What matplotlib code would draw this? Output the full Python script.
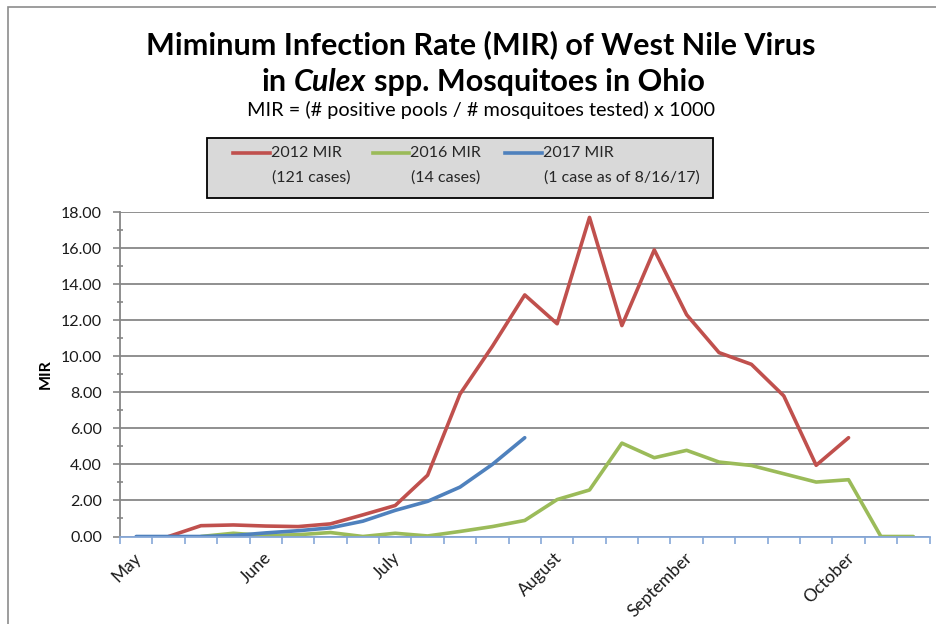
import matplotlib
matplotlib.use("Agg")
import matplotlib.pyplot as plt
import matplotlib.transforms as mtransforms
from matplotlib.lines import Line2D
from matplotlib.patches import Rectangle
from matplotlib.ticker import MultipleLocator, FormatStrFormatter, FixedLocator
import numpy as np

plt.rcParams['font.family'] = ['Lato', 'DejaVu Sans']

# weekly categories, May .. October
weeks = np.arange(25)
month_labels = ["May", "June", "July", "August", "September", "October"]
month_weeks = [0, 4, 8, 13, 17, 22]

nan = np.nan
mir_2012 = [nan, 0.0, 0.60, 0.64, 0.58, 0.55, 0.70, 1.20, 1.72, 3.40, 7.90, 10.55,
            13.40, 11.80, 17.70, 11.70, 15.90, 12.30, 10.20, 9.55, 7.80, 3.95, 5.48,
            nan, nan]
mir_2016 = [nan, nan, 0.0, 0.18, 0.05, 0.10, 0.22, 0.0, 0.18, 0.03, 0.28, 0.55,
            0.89, 2.05, 2.58, 5.18, 4.37, 4.78, 4.13, 3.94, 3.48, 3.02, 3.15,
            0.0, 0.0]
mir_2017 = [0.0, 0.0, 0.0, 0.05, 0.20, 0.32, 0.48, 0.85, 1.45, 1.95, 2.74, 4.00,
            5.48] + [nan] * 12

series = [
    ("2012 MIR", "(121 cases)", mir_2012, "#C0504D"),
    ("2016 MIR", "(14 cases)", mir_2016, "#9BBB59"),
    ("2017 MIR", "(1 case as of 8/16/17)", mir_2017, "#4F81BD"),
]

W, H = 937, 624
fig = plt.figure(figsize=(W / 100, H / 100), dpi=100)

def fx(px):
    return px / W

def fy(py):
    return 1 - py / H

ax = fig.add_axes([fx(120), fy(536.5), fx(929.5) - fx(120), fy(212) - fy(536.5)])

for name, cases, vals, col in series:
    ax.plot(weeks, vals, color=col, lw=2.6, solid_capstyle="round", zorder=3)

ax.set_xlim(-0.5, 24.5)
ax.set_ylim(0, 18)
ax.yaxis.set_major_locator(MultipleLocator(2))
ax.yaxis.set_minor_locator(MultipleLocator(1))
ax.yaxis.set_major_formatter(FormatStrFormatter("%.2f"))
ax.grid(axis="y", which="major", color="#878787", lw=1.3, zorder=1)

# category boundaries get tick marks, month names sit on the week centres
ax.xaxis.set_major_locator(FixedLocator(np.arange(-0.5, 25, 1)))
ax.xaxis.set_major_formatter(plt.NullFormatter())
ax.xaxis.set_minor_locator(FixedLocator(month_weeks))
ax.set_xticklabels(month_labels, minor=True)
ax.tick_params(axis="x", which="major", direction="out", length=5, width=1.2,
               color="#86A8D8")
ax.tick_params(axis="x", which="minor", length=0, pad=9.5, labelsize=12.5,
               labelcolor="#1a1a1a")
offset = mtransforms.ScaledTranslation(-3 / 100, 0, fig.dpi_scale_trans)
for lab in ax.get_xticklabels(minor=True):
    lab.set_rotation(45)
    lab.set_ha("right")
    lab.set_va("top")
    lab.set_rotation_mode("anchor")
    lab.set_transform(lab.get_transform() + offset)

ax.tick_params(axis="y", which="major", direction="out", length=5, width=1.2,
               color="#868686", pad=8, labelsize=11.5, labelcolor="#1a1a1a")
ax.tick_params(axis="y", which="minor", direction="inout", length=5, width=1.2,
               color="#868686")

for s in ["top", "right"]:
    ax.spines[s].set_visible(False)
ax.spines["left"].set_color("#868686")
ax.spines["left"].set_linewidth(1.3)
ax.spines["bottom"].set_color("#86A8D8")
ax.spines["bottom"].set_linewidth(1.3)
ax.spines["bottom"].set_zorder(4)

ax.set_ylabel("MIR", fontsize=11.5, fontweight="bold")
ax.yaxis.set_label_coords((53 - 120) / 809.5, 0.5)

# chart area border
fig.add_artist(Rectangle((fx(8), -0.1), 1.2, fy(7) + 0.1, transform=fig.transFigure,
                         fill=False, ec="#8c8c8c", lw=1.2))

# titles
fig.text(fx(481), fy(45), "Miminum Infection Rate (MIR) of West Nile Virus",
         ha="center", va="center", fontsize=22, fontweight="bold")

parts = [("in", "normal"), ("Culex", "italic"), ("spp. Mosquitoes in Ohio", "normal")]
renderer = fig.canvas.get_renderer()
texts = []
for txt, style in parts:
    t = fig.text(0, fy(91), txt, ha="left", va="baseline", fontsize=22,
                 fontweight="bold", fontstyle=style)
    texts.append(t)
widths = [t.get_window_extent(renderer).width for t in texts]
probe1 = fig.text(0, 0, "a a", fontsize=22, fontweight="bold")
probe2 = fig.text(0, 0, "aa", fontsize=22, fontweight="bold")
space = probe1.get_window_extent(renderer).width - probe2.get_window_extent(renderer).width
probe1.remove()
probe2.remove()
total = sum(widths) + 2 * space
x0 = 483 - total / 2
for t, w in zip(texts, widths):
    t.set_x(x0 / W)
    x0 += w + space

fig.text(fx(481), fy(110), "MIR = (# positive pools / # mosquitoes tested) x 1000",
         ha="center", va="center", fontsize=14.3)

# legend box
fig.add_artist(Rectangle((fx(207), fy(198)), fx(713) - fx(207), fy(138) - fy(198),
                         transform=fig.transFigure, fc="#D9D9D9", ec="black", lw=1.3))
leg_pos = [(233, 271), (373, 410), (505, 543)]
for (name, cases, vals, col), (lx, tx) in zip(series, leg_pos):
    fig.add_artist(Line2D([fx(lx), fx(tx - 1)], [fy(153), fy(153)], color=col, lw=2.6,
                          transform=fig.transFigure))
    fig.text(fx(tx), fy(153), name, ha="left", va="center", fontsize=11.5,
             color="#262626")
    fig.text(fx(tx + 1), fy(178), cases, ha="left", va="center", fontsize=11.5,
             color="#262626")

fig.savefig("out.png", dpi=100, facecolor="white")
